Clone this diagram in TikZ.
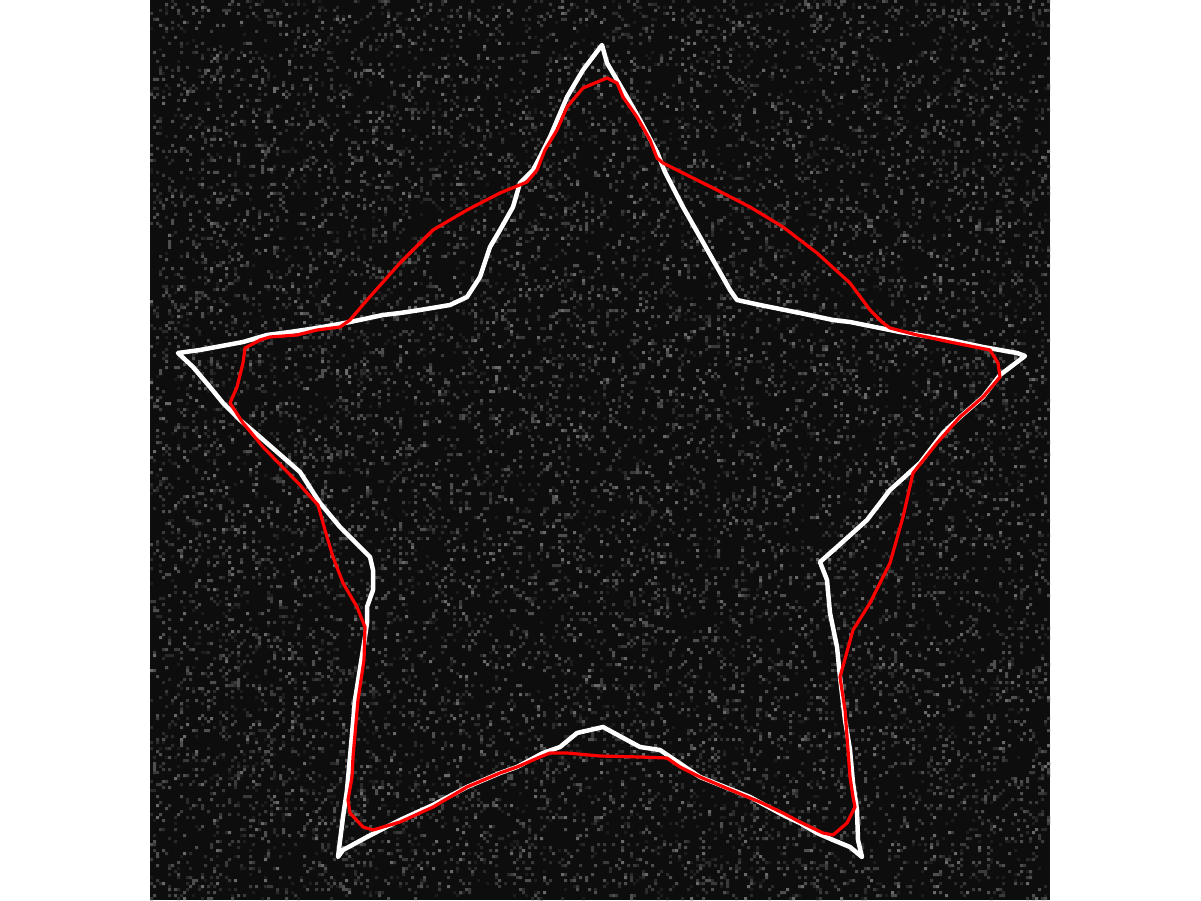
\documentclass[tikz,border=0pt]{standalone}
\definecolor{nA}{RGB}{28,28,28}
\definecolor{nB}{RGB}{42,42,42}
\definecolor{nC}{RGB}{58,58,58}
\definecolor{nD}{RGB}{78,78,78}
\definecolor{nE}{RGB}{105,105,105}
\definecolor{bgdark}{RGB}{13,13,13}
\begin{document}
\begin{tikzpicture}[x=1pt,y=-1pt,
  starline/.style={draw=white,line width=4.5pt,line join=round},
  fitline/.style={draw=red,line width=3.2pt,line join=round}]
\useasboundingbox (0,0) rectangle (1201,901);
\fill[white] (0,0) rectangle (1201,901);
\fill[bgdark] (150,0) rectangle (1050,900);
\pgfmathsetseed{4242}
\foreach \c/\n in {nA/6,nB/8,nC/8,nD/7,nE/2}{%
  \foreach \k in {1,...,\n}{%
    \fill[\c] \foreach \i in {1,...,500}{ ({150+3*int(300*rnd)},{3*int(300*rnd)}) rectangle ++(3,3) };
  }
}
% white star outline
\draw[starline] (602,45) -- (607,63) -- (627,97) -- (640,120) -- (657,152) -- (665,172) -- (683,207) -- (700,237) -- (717,267) -- (730,290) -- (737,300) -- (760,305) -- (800,313) -- (833,320) -- (850,322) -- (900,332) -- (950,340) -- (983,347) -- (1017,353) -- (1025,356) -- (1000,375) -- (983,397) -- (960,417) -- (943,433) -- (920,463) -- (890,490) -- (867,520) -- (837,547) -- (820,562) -- (827,580) -- (830,613) -- (837,647) -- (840,677) -- (845,720) -- (850,750) -- (853,783) -- (857,810) -- (858,840) -- (862,857) -- (850,847) -- (833,840) -- (817,833) -- (800,823) -- (783,815) -- (750,797) -- (700,777) -- (660,750) -- (640,747) -- (627,740) -- (603,727) -- (577,733) -- (560,747) -- (543,753) -- (517,767) -- (500,773) -- (467,787) -- (433,805) -- (400,820) -- (367,837) -- (343,850) -- (338,857) -- (343,817) -- (347,790) -- (350,757) -- (355,700) -- (365,637) -- (367,623) -- (367,607) -- (373,590) -- (373,570) -- (370,557) -- (340,527) -- (320,503) -- (300,472) -- (260,437) -- (240,420) -- (223,403) -- (210,387) -- (193,367) -- (178,353) -- (200,350) -- (243,342) -- (267,335) -- (290,332) -- (317,328) -- (350,322) -- (383,315) -- (400,313) -- (420,310) -- (450,305) -- (467,297) -- (480,277) -- (490,247) -- (500,230) -- (513,207) -- (520,183) -- (533,170) -- (540,157) -- (550,137) -- (567,97) -- (583,70) -- cycle;
% red fitted contour
\draw[fitline] (545,150) -- (557,130) -- (567,107) -- (583,88) -- (607,78) -- (617,83) -- (623,97) -- (637,117) -- (650,140) -- (657,158) -- (663,163) -- (683,173) -- (717,190) -- (750,207) -- (783,227) -- (817,253) -- (850,283) -- (870,310) -- (883,323) -- (890,328) -- (917,335) -- (950,342) -- (990,350) -- (998,363) -- (1000,377) -- (983,397) -- (960,417) -- (937,443) -- (913,473) -- (903,517) -- (890,563) -- (870,603) -- (853,630) -- (840,677) -- (845,710) -- (848,750) -- (850,777) -- (853,797) -- (855,807) -- (847,823) -- (833,835) -- (823,833) -- (800,822) -- (783,813) -- (760,802) -- (750,798) -- (700,777) -- (680,767) -- (667,758) -- (640,757) -- (600,756) -- (567,753) -- (550,753) -- (540,757) -- (517,767) -- (500,773) -- (467,787) -- (433,807) -- (400,822) -- (373,830) -- (363,827) -- (350,813) -- (348,800) -- (352,777) -- (353,757) -- (358,700) -- (364,660) -- (365,627) -- (357,607) -- (343,583) -- (333,557) -- (325,530) -- (318,505) -- (307,493) -- (300,485) -- (263,447) -- (243,423) -- (230,403) -- (237,387) -- (243,363) -- (245,348) -- (260,340) -- (270,337) -- (297,335) -- (317,330) -- (340,327) -- (350,320) -- (367,300) -- (400,263) -- (433,230) -- (467,210) -- (500,193) -- (527,182) -- (537,170) -- cycle;
\end{tikzpicture}
\end{document}
